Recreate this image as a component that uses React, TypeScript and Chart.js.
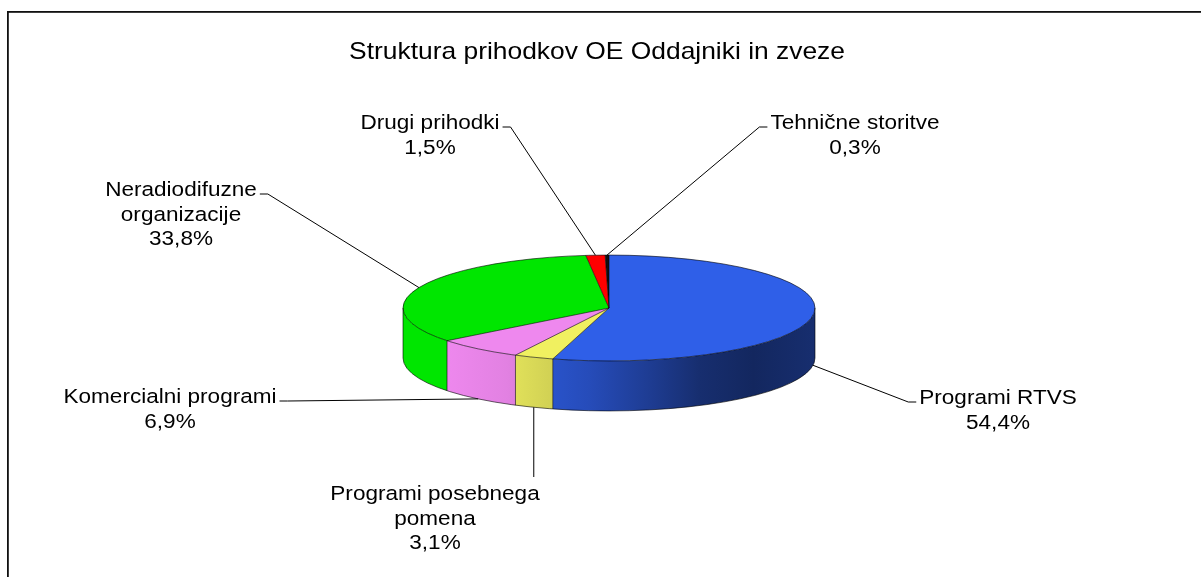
import React, { useEffect, useRef } from 'react';
import { Chart, registerables } from 'chart.js';

Chart.register(...registerables);

// ---- data ----
const titleText = 'Struktura prihodkov OE Oddajniki in zveze';
const categories = [
  'Programi RTVS',
  'Programi posebnega pomena',
  'Komercialni programi',
  'Neradiodifuzne organizacije',
  'Drugi prihodki',
  'Tehnične storitve',
];
const values = [54.4, 3.1, 6.9, 33.8, 1.5, 0.3];
const labelLines = [
  ['Programi RTVS'],
  ['Programi posebnega', 'pomena'],
  ['Komercialni programi'],
  ['Neradiodifuzne', 'organizacije'],
  ['Drugi prihodki'],
  ['Tehnične storitve'],
];

// ---- styles / layout ----
const colors = ['#2F5FE8', '#F0F060', '#EE88EE', '#00E600', '#FF0000', '#101010'];
const labelPos = [
  { x: 998, y: 404 },
  { x: 435, y: 500 },
  { x: 170, y: 403 },
  { x: 181, y: 196 },
  { x: 430, y: 129 },
  { x: 855, y: 129 },
];
const W = 1201;
const H = 577;
const FONT = '"Liberation Sans", Arial, sans-serif';
const SX = 1.1;
const LABEL_SIZE = 20.5;
const LINE_H = 24.5;
const TITLE_SIZE = 24;
const TILT = 0.257;
const DEPTH = 50;
const shadeStops: [number, number][] = [
  [0, 1], [0.1, 1], [0.25, 0.95], [0.36, 0.87], [0.45, 0.8],
  [0.6, 0.63], [0.72, 0.48], [0.85, 0.41], [1, 0.48],
];

function shade(hex: string, f: number) {
  const n = parseInt(hex.slice(1), 16);
  const r = Math.round(((n >> 16) & 255) * f);
  const g = Math.round(((n >> 8) & 255) * f);
  const b = Math.round((n & 255) * f);
  return `rgb(${r},${g},${b})`;
}

function frontSegments(s: number, e: number) {
  const out: [number, number][] = [];
  for (let k = -1; k <= 1; k++) {
    const ss = s + k * 2 * Math.PI;
    const ee = e + k * 2 * Math.PI;
    const a = Math.max(ss, 0);
    const b = Math.min(ee, Math.PI);
    if (b > a) out.push([a, b]);
  }
  return out;
}

function drawStretched(ctx: CanvasRenderingContext2D, text: string, cx: number, y: number, size: number) {
  ctx.save();
  ctx.font = `${size}px ${FONT}`;
  ctx.textAlign = 'center';
  ctx.textBaseline = 'alphabetic';
  ctx.fillStyle = '#000';
  ctx.translate(cx, y);
  ctx.scale(SX, 1);
  ctx.fillText(text, 0, 0);
  ctx.restore();
}

const pie3d = {
  id: 'pie3d',
  beforeDatasetsDraw(chart: any) {
    const ctx = chart.ctx as CanvasRenderingContext2D;
    const arcs = chart.getDatasetMeta(0).data;
    const { x: cx, y: cy, outerRadius: a } = arcs[0];
    const b = a * TILT;
    ctx.save();
    arcs.forEach((arc: any, i: number) => {
      const segs = frontSegments(arc.startAngle, arc.endAngle);
      segs.forEach(([s, e]) => {
        const grad = ctx.createLinearGradient(cx - a, 0, cx + a, 0);
        shadeStops.forEach(([t, f]) => grad.addColorStop(t, shade(colors[i], f)));
        ctx.fillStyle = grad;
        ctx.beginPath();
        ctx.ellipse(cx, cy, a, b, 0, s, e, false);
        ctx.ellipse(cx, cy + DEPTH, a, b, 0, e, s, true);
        ctx.closePath();
        ctx.fill();
      });
    });
    ctx.restore();
    ctx.save();
    ctx.translate(0, cy);
    ctx.scale(1, TILT);
    ctx.translate(0, -cy);
  },
  afterDatasetsDraw(chart: any) {
    const ctx = chart.ctx as CanvasRenderingContext2D;
    ctx.restore();
    const arcs = chart.getDatasetMeta(0).data;
    const { x: cx, y: cy, outerRadius: a } = arcs[0];
    const b = a * TILT;
    ctx.save();
    ctx.strokeStyle = 'rgba(0,0,0,0.75)';
    ctx.lineWidth = 0.8;
    ctx.beginPath();
    ctx.ellipse(cx, cy, a, b, 0, 0, Math.PI * 2);
    ctx.stroke();
    ctx.beginPath();
    ctx.ellipse(cx, cy + DEPTH, a, b, 0, 0, Math.PI);
    ctx.stroke();
    ctx.beginPath();
    ctx.moveTo(cx + a, cy); ctx.lineTo(cx + a, cy + DEPTH);
    ctx.moveTo(cx - a, cy); ctx.lineTo(cx - a, cy + DEPTH);
    arcs.forEach((arc: any) => {
      const ang = arc.startAngle;
      const px = cx + a * Math.cos(ang);
      const py = cy + b * Math.sin(ang);
      ctx.moveTo(cx, cy);
      ctx.lineTo(px, py);
      if (Math.sin(ang) > 0) {
        ctx.moveTo(px, py);
        ctx.lineTo(px, py + DEPTH);
      }
    });
    ctx.stroke();
    ctx.restore();
  },
  afterDraw(chart: any) {
    const ctx = chart.ctx as CanvasRenderingContext2D;
    const arcs = chart.getDatasetMeta(0).data;
    const { x: cx, y: cy, outerRadius: a } = arcs[0];
    const b = a * TILT;

    // frame
    ctx.save();
    ctx.fillStyle = '#111';
    ctx.fillRect(7, 11, W, 1.8);
    ctx.fillRect(7, 11, 1.8, H);
    ctx.restore();

    // title
    drawStretched(ctx, titleText, 597, 59, TITLE_SIZE);

    // labels
    arcs.forEach((arc: any, i: number) => {
      const mid = (arc.startAngle + arc.endAngle) / 2;
      const s = Math.sin(mid);
      const ax = cx + a * Math.cos(mid);
      const ay = cy + b * s + (s > 0 ? DEPTH : 0);
      const lines = [...labelLines[i], values[i].toFixed(1).replace('.', ',') + '%'];
      const pos = labelPos[i];
      ctx.save();
      ctx.font = `${LABEL_SIZE}px ${FONT}`;
      const widths = lines.map((t) => ctx.measureText(t).width * SX);
      ctx.restore();
      const w0 = widths[0];
      const left = pos.x - w0 / 2;
      const right = pos.x + w0 / 2;
      const top = pos.y - 15;
      ctx.save();
      ctx.strokeStyle = '#000';
      ctx.lineWidth = 1;
      ctx.beginPath();
      if (ax >= left && ax <= right) {
        const ty = ay < top ? top - 8 : pos.y + LINE_H * (lines.length - 1) + 8;
        ctx.moveTo(ax, ay);
        ctx.lineTo(ax, ty);
      } else if (ax > right) {
        const sx = right + 3;
        const sy = pos.y - 2;
        ctx.moveTo(sx, sy);
        ctx.lineTo(sx + 8, sy);
        ctx.lineTo(ax, ay);
      } else {
        const sx = left - 3;
        const sy = pos.y - 2;
        ctx.moveTo(sx, sy);
        ctx.lineTo(sx - 8, sy);
        ctx.lineTo(ax, ay);
      }
      ctx.stroke();
      ctx.restore();
      lines.forEach((t, j) => drawStretched(ctx, t, pos.x, pos.y + j * LINE_H, LABEL_SIZE));
    });
  },
};

export default function App() {
  const ref = useRef<HTMLCanvasElement | null>(null);
  useEffect(() => {
    if (!ref.current) return;
    const chart = new Chart(ref.current, {
      type: 'pie',
      data: {
        labels: categories,
        datasets: [{ data: values, backgroundColor: colors, borderWidth: 0 }],
      },
      options: {
        responsive: false,
        animation: false,
        events: [],
        layout: { padding: { left: 403, right: 386, top: 102, bottom: 63 } },
        plugins: {
          legend: { display: false },
          tooltip: { enabled: false },
          title: { display: false },
        },
      },
      plugins: [pie3d],
    } as any);
    return () => chart.destroy();
  }, []);
  return (
    <div style={{ position: 'fixed', left: 0, top: 0, width: W, height: H, background: '#fff', overflow: 'hidden' }}>
      <canvas ref={ref} width={W} height={H} style={{ display: 'block' }} />
    </div>
  );
}
